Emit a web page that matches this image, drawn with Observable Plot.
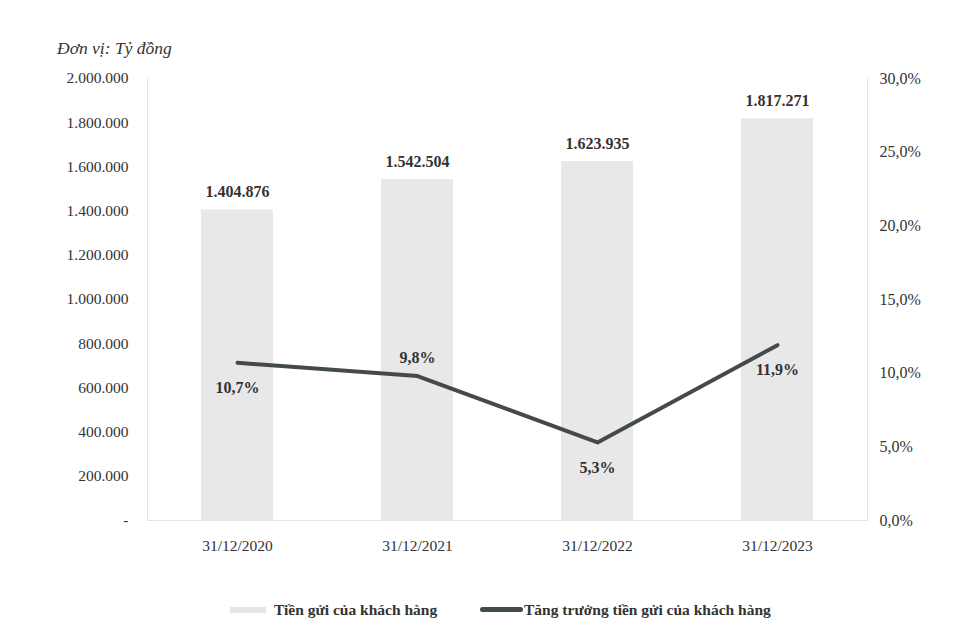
<!DOCTYPE html>
<html>
<head>
<meta charset="utf-8">
<script src="https://cdn.jsdelivr.net/npm/d3@7"></script>
<script src="https://cdn.jsdelivr.net/npm/@observablehq/plot@0.6"></script>
<style>
  html, body { margin: 0; padding: 0; background: #fff; }
  #wrap { position: relative; width: 956px; height: 637px; font-family: "Liberation Serif", "DejaVu Serif", serif; color: #333; overflow: hidden; }
  #title { position: absolute; left: 57px; top: 38px; font-style: italic; font-size: 17.5px; color: #333; }
  #chart { position: absolute; left: 0; top: 62px; }
  .leg { position: absolute; top: 600px; font-size: 15.5px; font-weight: bold; color: #333; line-height: 20px; }
  .sw1 { position: absolute; left: 230px; top: 607px; width: 36px; height: 6px; background: #e6e6e6; }
  .sw2 { position: absolute; left: 480px; top: 607px; width: 43px; height: 5px; background: #434b49; border-radius: 3px; }
</style>
</head>
<body>
<div id="wrap">
  <div id="title">Đơn vị: Tỷ đồng</div>
  <div id="chart"></div>
  <div class="sw1"></div>
  <div class="leg" style="left:274px">Tiền gửi của khách hàng</div>
  <div class="sw2"></div>
  <div class="leg" style="left:524px">Tăng trưởng tiền gửi của khách hàng</div>
</div>
<script>
const categories = ["31/12/2020", "31/12/2021", "31/12/2022", "31/12/2023"];
const deposits = [1404876, 1542504, 1623935, 1817271];
const growth = [10.7, 9.8, 5.3, 11.9];
const leftTicks = [0, 200000, 400000, 600000, 800000, 1000000, 1200000, 1400000, 1600000, 1800000, 2000000];
const rightTicks = [0, 5, 10, 15, 20, 25, 30];

const k = 2000000 / 30;
const data = categories.map((c, i) => ({cat: c, dep: deposits[i], g: growth[i], gy: growth[i] * k, i}));
const fmtNum = v => v === 0 ? "-" : d3.format(",")(v).replace(/,/g, ".");
const fmtPct = v => v.toFixed(1).replace(".", ",") + "%";

const chart = Plot.plot({
  width: 956,
  height: 520,
  marginTop: 16,
  marginBottom: 62,
  marginLeft: 147,
  marginRight: 89,
  style: {fontFamily: "Liberation Serif, DejaVu Serif, serif", fontSize: "15px", color: "#333", background: "transparent"},
  x: {domain: categories, paddingInner: 0.6, paddingOuter: 0.3, axis: null},
  y: {domain: [0, 2000000], axis: null},
  marks: [
    Plot.frame({anchor: "left", stroke: "#e8e8e8"}),
    Plot.frame({anchor: "right", stroke: "#e8e8e8"}),
    Plot.barY(data, {x: "cat", y: "dep", fill: "#e8e8e8"}),
    Plot.ruleY([0], {stroke: "#e3e3e3"}),
    Plot.axisY(leftTicks, {anchor: "left", tickSize: 0, tickPadding: 19, tickFormat: fmtNum, label: null, fontSize: 15.5}),
    Plot.axisY(rightTicks.map(t => t * k), {anchor: "right", tickSize: 0, tickPadding: 12, tickFormat: v => fmtPct(v / k), label: null, fontSize: 16}),
    Plot.axisX({tickSize: 0, tickPadding: 19, label: null, fontSize: 15.5}),
    Plot.text(data, {x: "cat", y: "dep", text: d => fmtNum(d.dep), dy: -18, fontWeight: "bold", fontSize: 16, fill: "#333"}),
    Plot.lineY(data, {x: "cat", y: "gy", stroke: "#434b49", strokeWidth: 4}),
    Plot.text(data.filter(d => d.i === 1), {x: "cat", y: "gy", text: d => fmtPct(d.g), dy: -18, fontWeight: "bold", fontSize: 16, fill: "#333"}),
    Plot.text(data.filter(d => d.i !== 1), {x: "cat", y: "gy", text: d => fmtPct(d.g), dy: 25, fontWeight: "bold", fontSize: 16, fill: "#333"})
  ]
});
document.getElementById("chart").appendChild(chart);
</script>
</body>
</html>
